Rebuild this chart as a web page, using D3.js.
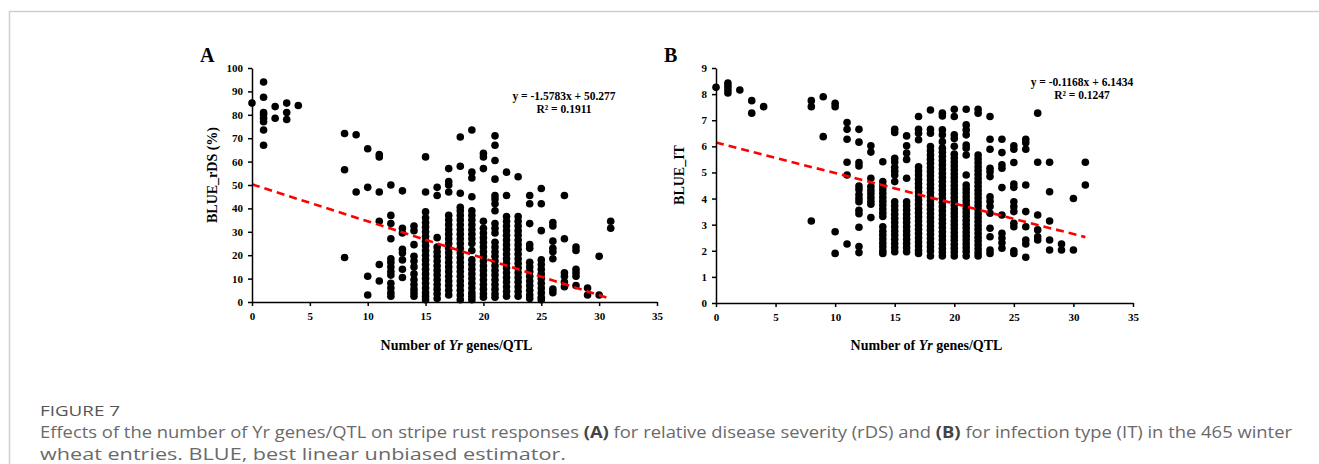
<html>
<head>
<script src='https://d3js.org/d3.v7.min.js'></script>
<style>
body {margin:0; background:#fff;}
.axis path, .axis line {stroke:#000; stroke-width:1.5px;}
.axis text {font-family:'Liberation Serif','Times New Roman',serif; font-weight:bold; font-size:11px; fill:#000;}
.ttl {font-family:'Liberation Serif','Times New Roman',serif; font-weight:bold; fill:#000;}
.cap {font-family:'Open Sans',sans-serif; fill:#6a6a6a;}
</style>
</head>
<body>
<svg width=1319 height=464></svg>
<script>
// x = number of Yr genes/QTL, followed by the observed values at that x
var rdsCols = [
  [0, [85]],
  [1, [94, 87.5, 81, 80, 78.5, 77, 73.5, 67]],
  [2, [83.5, 78.5]],
  [3, [85, 81, 78]],
  [4, [84]],
  [8, [72, 56.5, 19]],
  [9, [71.5, 47]],
  [10, [65.5, 49, 11, 3]],
  [11, [63, 62, 47, 34.5, 16, 9]],
  [12, [50, 37, 33.5, 27, 18.5, 17, 15, 13, 11.5, 8, 6, 4, 2.5]],
  [13, [47.5, 31.5, 29.5, 22.5, 21, 18, 14, 10.5]],
  [14, [32.5, 30.5, 24.5, 19.5, 17.5, 15, 12, 9.5, 7.5, 5.5, 4, 2.5]],
  [15, [62, 47, 38.5, 36, 34, 32, 30, 28, 26, 24, 22, 20, 18, 16, 14, 12, 10, 8, 6, 4, 2.5, 1]],
  [16, [49, 45.5, 27.5, 23.5, 21.5, 19.5, 17.5, 15.5, 13.5, 11.5, 9.5, 7.5, 5.5, 3.5, 1.5]],
  [17, [57, 51.5, 50, 47, 37, 35, 33, 31, 29, 27, 25, 23, 21, 19, 17, 15, 13, 11, 9, 7, 5, 3]],
  [18, [70.5, 58, 46.5, 40.5, 39, 37, 35, 33, 31, 29, 27, 25, 23, 21, 19, 17, 15, 13, 11, 9, 7, 5, 3, 1]],
  [19, [73.5, 55.5, 53, 45, 39, 37, 35, 33, 31, 29, 27, 25, 22, 18, 16, 14, 12, 10, 8, 6, 4, 2.5, 1]],
  [20, [63.5, 62, 57, 34.5, 31.5, 29.5, 27.5, 25.5, 23.5, 21.5, 19.5, 17.5, 15.5, 13.5, 11.5, 9.5, 7.5, 5.5, 3.5, 2]],
  [21, [71, 67, 60.5, 52.5, 45.5, 44, 42, 39, 33.5, 31.5, 29.5, 25.5, 23.5, 21.5, 19.5, 17.5, 15.5, 13.5, 11.5, 9.5, 7.5, 5.5, 3.5, 2]],
  [22, [55.5, 45.5, 36.5, 34.5, 32.5, 30.5, 28.5, 26.5, 24.5, 22.5, 20.5, 18.5, 16.5, 14.5, 12.5, 10.5, 8.5, 6.5, 4.5, 2.5]],
  [23, [53.5, 36.5, 34.5, 32.5, 30.5, 28.5, 26.5, 24.5, 22.5, 20.5, 18.5, 16.5, 14.5, 12.5, 10.5, 8.5, 6.5, 4.5, 2.5]],
  [24, [45.5, 42, 33.5, 24.5, 23, 17, 15, 13, 11, 9, 7, 5, 3, 1.5]],
  [25, [48.5, 42, 30.5, 18, 16, 14, 12, 10, 8, 6, 4, 2, 1]],
  [26, [34, 32.5, 26, 23, 21.5, 18.5, 5.5, 4]],
  [27, [45.5, 27, 12.5, 11, 8.5, 6.5]],
  [28, [23.5, 22, 14, 12.5, 11, 7]],
  [29, [6, 3]],
  [30, [19.5, 3]],
  [31, [34.5, 31.5]]
];

var itCols = [
  [0, [8.26]],
  [1, [8.42, 8.3, 8.17, 8.04]],
  [2, [8.16]],
  [3, [7.75, 7.27]],
  [4, [7.52]],
  [8, [7.75, 7.52, 3.14]],
  [9, [7.9, 6.37]],
  [10, [7.65, 7.52, 2.73, 1.9]],
  [11, [6.91, 6.65, 6.27, 5.39, 4.9, 2.26]],
  [12, [6.65, 6.16, 5.38, 5.25, 4.48, 4.35, 4.15, 4.0, 3.88, 3.55, 3.42, 2.9, 2.16, 1.93]],
  [13, [6.02, 5.78, 4.78, 4.46, 4.32, 4.18, 4.04, 3.9, 3.78, 3.27]],
  [14, [5.41, 4.65, 4.5, 4.35, 4.2, 4.05, 3.9, 3.75, 3.6, 3.45, 3.31, 2.92, 2.75, 2.6, 2.45, 2.3, 2.15, 2.0, 1.9]],
  [15, [6.65, 6.53, 5.54, 5.4, 5.2, 5.05, 4.9, 4.65, 3.88, 3.72, 3.56, 3.4, 3.24, 3.08, 2.92, 2.76, 2.6, 2.44, 2.28, 2.12, 1.96]],
  [16, [6.4, 6.02, 5.74, 5.5, 4.78, 3.88, 3.72, 3.56, 3.4, 3.24, 3.08, 2.92, 2.76, 2.6, 2.44, 2.28, 2.12, 1.96]],
  [17, [7.14, 6.65, 6.5, 6.25, 5.22, 5.06, 4.9, 4.74, 4.58, 4.42, 4.26, 4.1, 3.94, 3.78, 3.62, 3.46, 3.3, 3.14, 2.98, 2.82, 2.66, 2.5, 2.34, 2.18, 2.02, 1.9]],
  [18, [7.39, 6.65, 6.5, 5.99, 5.83, 5.67, 5.51, 5.35, 5.19, 5.03, 4.87, 4.71, 4.55, 4.39, 4.23, 4.07, 3.91, 3.75, 3.59, 3.43, 3.27, 3.11, 2.95, 2.79, 2.63, 2.47, 2.31, 2.15, 1.99, 1.8]],
  [19, [7.27, 7.16, 6.63, 6.44, 6.18, 5.93, 5.77, 5.61, 5.45, 5.29, 5.13, 4.97, 4.81, 4.65, 4.49, 4.33, 4.17, 4.01, 3.85, 3.69, 3.53, 3.37, 3.21, 3.05, 2.89, 2.73, 2.57, 2.41, 2.25, 2.09, 1.93, 1.8]],
  [20, [7.42, 7.14, 6.44, 6.3, 6.0, 5.7, 5.55, 5.4, 5.25, 5.1, 4.95, 4.8, 4.65, 4.5, 4.35, 4.2, 4.05, 3.9, 3.75, 3.6, 3.45, 3.3, 3.15, 3.0, 2.85, 2.7, 2.55, 2.4, 2.25, 2.1, 1.95, 1.8]],
  [21, [7.42, 6.82, 6.63, 6.44, 6.05, 5.93, 5.67, 4.9, 4.52, 4.37, 4.22, 4.07, 3.92, 3.77, 3.62, 3.47, 3.32, 3.17, 3.02, 2.87, 2.72, 2.57, 2.42, 2.27, 2.12, 1.97, 1.8]],
  [22, [7.42, 7.27, 5.67, 5.52, 5.37, 5.22, 5.07, 4.92, 4.77, 4.62, 4.47, 4.32, 4.17, 4.02, 3.87, 3.72, 3.57, 3.42, 3.27, 3.12, 2.97, 2.82, 2.67, 2.52, 2.37, 2.22, 2.07, 1.92, 1.8]],
  [23, [7.14, 6.27, 5.89, 5.16, 5.03, 4.84, 4.07, 3.9, 3.7, 3.44, 2.86, 2.54, 2.03, 1.9]],
  [24, [6.27, 5.76, 5.29, 5.16, 4.42, 3.37, 2.67, 2.49, 2.31, 2.1]],
  [25, [6.02, 5.89, 5.38, 4.56, 4.43, 3.88, 3.69, 3.5, 3.05, 2.92, 2.0, 1.9]],
  [26, [6.27, 6.14, 5.89, 4.52, 3.5, 2.92, 2.41, 2.26, 1.75]],
  [27, [7.27, 5.39, 3.37, 2.8, 2.54, 2.41]],
  [28, [5.39, 4.26, 3.14, 2.41, 2.03]],
  [29, [2.26, 2.03]],
  [30, [4.0, 2.03]],
  [31, [5.39, 4.52]]
];

var xTicks = [0, 5, 10, 15, 20, 25, 30, 35];
var rdsTicks = [0, 10, 20, 30, 40, 50, 60, 70, 80, 90, 100];
var itTicks = [0, 1, 2, 3, 4, 5, 6, 7, 8, 9];
// trend lines as printed on the chart: [slope, intercept, r2]
var rdsFit = [-1.5783, 50.277, 0.1911];
var itFit = [-0.1168, 6.1434, 0.1247];

var svg = d3.select("svg");

// page frame
svg.append("path").attr("d", "M9.5,464 V11.5 H1319").attr("fill", "none").attr("stroke", "#cfcfcf").attr("stroke-width", 1.5);

function panel(o) {
  var x = d3.scaleLinear().domain([0, 35]).range([o.left, o.right]);
  var y = d3.scaleLinear().domain([0, o.ymax]).range([o.bottom, o.top]);
  var g = svg.append("g");

  var pts = [];
  o.cols.forEach(function(c) { c[1].forEach(function(v) { pts.push([c[0], v]); }); });

  g.selectAll("circle").data(pts).enter().append("circle")
    .attr("cx", function(d) { return x(d[0]); })
    .attr("cy", function(d) { return y(d[1]); })
    .attr("r", 3.8)
    .attr("fill", "#000");

  g.append("line")
    .attr("x1", x(0)).attr("y1", y(o.fit[1]))
    .attr("x2", x(31)).attr("y2", y(o.fit[0] * 31 + o.fit[1]))
    .attr("stroke", "#f00").attr("stroke-width", 2.6).attr("stroke-dasharray", "8,5");

  g.append("g").attr("class", "axis")
    .attr("transform", "translate(0," + o.bottom + ")")
    .call(d3.axisBottom(x).tickValues(xTicks).tickSize(4).tickPadding(6).tickSizeOuter(0));
  g.append("g").attr("class", "axis")
    .attr("transform", "translate(" + o.left + ",0)")
    .call(d3.axisLeft(y).tickValues(o.ticks).tickSize(4).tickPadding(5).tickSizeOuter(0));

  g.append("text").attr("class", "ttl").attr("x", o.left - 52).attr("y", 62)
    .style("font-size", "20px").text(o.letter);

  g.append("text").attr("class", "ttl").style("font-size", "14px")
    .attr("transform", "translate(" + o.ytx + ",175) rotate(-90)")
    .attr("text-anchor", "middle").text(o.ytitle);

  var xt = g.append("text").attr("class", "ttl").style("font-size", "14px")
    .attr("x", (o.left + o.right) / 2 + 2).attr("y", 350).attr("text-anchor", "middle");
  xt.append("tspan").text("Number of ");
  xt.append("tspan").style("font-style", "italic").text("Yr");
  xt.append("tspan").text(" genes/QTL");

  g.append("text").attr("class", "ttl").style("font-size", "11.5px")
    .attr("x", o.eqx).attr("y", o.eqy).attr("text-anchor", "middle")
    .text("y = " + o.fit[0] + "x + " + o.fit[1]);
  g.append("text").attr("class", "ttl").style("font-size", "11.5px")
    .attr("x", o.eqx).attr("y", o.eqy + 13).attr("text-anchor", "middle")
    .text("R\u00b2 = " + o.fit[2]);
}

panel({cols: rdsCols, ymax: 100, ticks: rdsTicks, fit: rdsFit, left: 252, right: 657, top: 68, bottom: 302,
  letter: "A", ytitle: "BLUE_rDS (%)", ytx: 217, eqx: 564, eqy: 100});
panel({cols: itCols, ymax: 9, ticks: itTicks, fit: itFit, left: 716, right: 1133, top: 68, bottom: 303,
  letter: "B", ytitle: "BLUE_IT", ytx: 684, eqx: 1082, eqy: 86});

// caption
svg.append("text").attr("class", "cap").attr("x", 40).attr("y", 416)
  .style("font-size", "15px").style("fill", "#555")
  .attr("textLength", 80).attr("lengthAdjust", "spacingAndGlyphs").text("FIGURE 7");
var c1 = svg.append("text").attr("class", "cap").attr("x", 40).attr("y", 438).style("font-size", "16.5px")
  .attr("textLength", 1252).attr("lengthAdjust", "spacingAndGlyphs");
c1.append("tspan").text("Effects of the number of Yr genes/QTL on stripe rust responses ");
c1.append("tspan").style("font-weight", "bold").style("fill", "#444").text("(A)");
c1.append("tspan").text(" for relative disease severity (rDS) and ");
c1.append("tspan").style("font-weight", "bold").style("fill", "#444").text("(B)");
c1.append("tspan").text(" for infection type (IT) in the 465 winter");
svg.append("text").attr("class", "cap").attr("x", 40).attr("y", 460).style("font-size", "16.5px")
  .attr("textLength", 526).attr("lengthAdjust", "spacingAndGlyphs")
  .text("wheat entries. BLUE, best linear unbiased estimator.");
</script>
</body>
</html>
